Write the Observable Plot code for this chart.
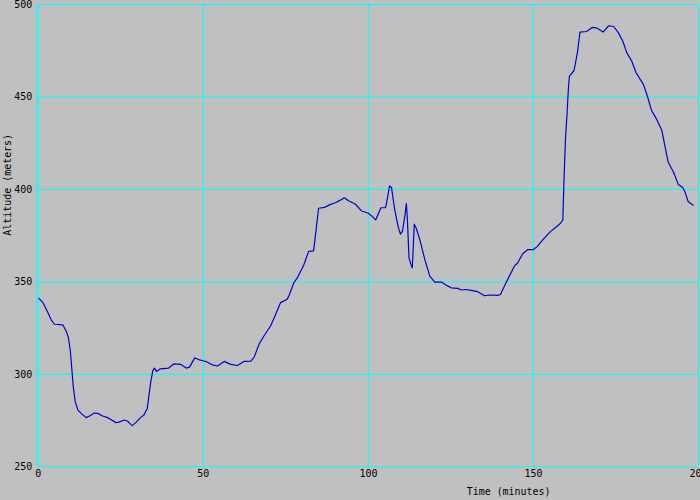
<!DOCTYPE html>
<html>
<head>
<meta charset="utf-8">
<script src="https://cdn.jsdelivr.net/npm/d3@7"></script>
<script src="https://cdn.jsdelivr.net/npm/@observablehq/plot@0.6"></script>
<style>
html, body { margin: 0; padding: 0; background: #c0c0c0; overflow: hidden; }
#chart svg { display: block; }
</style>
</head>
<body>
<div id="chart"></div>
<script>
// Elapsed time (minutes)
const time = [
  0.2, 1.4, 2.9, 3.9, 4.9, 7.4, 8.4, 9.1, 9.7, 10.2, 10.6, 11.2, 12.0, 13.0, 14.5, 15.5,
  17.0, 18.0, 19.5, 21.0, 22.0, 23.5, 24.5, 26.0, 27.0, 27.7, 28.5, 29.5, 31.0, 32.0,
  33.0, 34.0, 34.7, 35.2, 35.8, 37.0, 39.5, 41.1, 43.1, 44.8, 45.8, 47.4, 48.6, 50.4,
  50.8, 52.8, 54.3, 56.3, 58.3, 60.3, 62.3, 64.4, 65.4, 66.9, 68.4, 70.4, 71.7, 73.4,
  75.4, 76.1, 77.4, 78.6, 80.4, 81.9, 83.4, 84.1, 84.9, 86.7, 88.5, 90.0, 91.5, 92.7,
  94.0, 96.0, 98.0, 100.0, 101.2, 102.2, 103.8, 105.2, 105.8, 106.4, 107.0, 108.0,
  109.0, 109.7, 110.3, 111.1, 111.5, 111.8, 112.3, 112.9, 113.3, 113.9, 114.5, 115.6,
  117.1, 118.6, 120.1, 122.1, 124.1, 125.1, 127.1, 128.1, 129.6, 131.1, 133.1, 135.2,
  136.7, 139.2, 140.0, 141.7, 144.2, 145.2, 146.7, 148.2, 149.9, 151.2, 152.4, 155.2,
  156.7, 158.2, 158.9, 159.2, 159.7, 160.2, 160.6, 160.9, 162.3, 163.3, 164.1, 166.1,
  167.8, 169.3, 171.1, 172.8, 174.3, 175.8, 177.1, 178.3, 179.8, 181.1, 183.3, 184.5,
  185.8, 187.3, 188.9, 189.8, 190.8, 192.4, 193.9, 195.2, 195.9, 196.9, 198.4
];
// Altitude (meters)
const altitude = [
  341.1, 338.8, 333.4, 329.5, 327.1, 326.8, 323.6, 320.0, 312.9, 302.1, 293.2, 285.1, 280.7, 278.9, 276.6, 277.5,
  279.1, 278.9, 277.5, 276.6, 275.6, 273.9, 274.2, 275.3, 274.8, 273.5, 272.3, 273.9, 276.6, 278.0,
  281.5, 295.0, 302.1, 303.4, 301.6, 303.0, 303.4, 305.7, 305.4, 303.4, 303.9, 308.9, 308.0, 307.1,
  307.0, 305.1, 304.5, 307.0, 305.4, 304.8, 307.0, 307.1, 309.3, 316.4, 320.9, 326.3, 331.6, 338.8,
  340.6, 343.2, 349.5, 352.6, 359.0, 366.5, 366.8, 377.3, 389.8, 390.3, 391.9, 392.8, 394.2, 395.5,
  393.9, 392.1, 388.3, 387.1, 385.3, 383.5, 390.1, 390.1, 395.5, 401.9, 401.0, 388.8,
  379.9, 375.8, 377.3, 386.2, 392.4, 384.4, 362.9, 359.3, 357.6, 381.2, 379.0, 372.7,
  362.0, 353.1, 349.9, 349.9, 347.7, 346.8, 346.5, 345.6, 345.9, 345.4, 344.7, 342.5,
  342.9, 342.7, 343.2, 349.5, 358.5, 360.2, 365.1, 367.4, 367.4, 369.2, 371.9, 377.3,
  379.4, 381.7, 383.5, 402.3, 427.3, 441.6, 455.0, 461.3, 464.3, 473.8, 485.1, 485.4,
  487.6, 487.2, 485.1, 488.5, 488.1, 484.5, 480.0, 473.8, 469.3, 463.1, 456.8, 450.5,
  442.5, 438.0, 431.8, 423.7, 414.8, 409.4, 402.6, 401.0, 398.7, 393.3, 391.5
];
const xTicks = [0, 50, 100, 150, 200];
const yTicks = [250, 300, 350, 400, 450, 500];
const xTitle = "Time (minutes)";
const yTitle = "Altitude (meters)";

const data = time.map((t, i) => ({time: t, altitude: altitude[i]}));

const chart = Plot.plot({
  width: 704,
  height: 500,
  marginLeft: 38,
  marginRight: 2,
  marginTop: 4,
  marginBottom: 31,
  style: {
    background: "#c0c0c0",
    fontFamily: "'DejaVu Sans Mono', monospace",
    fontSize: "10px",
    color: "black",
    overflow: "visible"
  },
  x: {domain: [0, 200], label: null},
  y: {domain: [250, 500], label: null},
  marks: [
    Plot.gridX(xTicks, {stroke: "#00ffff", strokeOpacity: 1, strokeWidth: 1}),
    Plot.gridY(yTicks, {stroke: "#00ffff", strokeOpacity: 1, strokeWidth: 1}),
    Plot.ruleX([xTicks[0]], {stroke: "#00ffff", strokeWidth: 1, dx: -2}),
    Plot.axisX(xTicks, {tickSize: 0, tickPadding: 3, fill: "black", fontSize: 10}),
    Plot.axisY(yTicks, {tickSize: 0, tickPadding: 6, fill: "black", fontSize: 10}),
    Plot.line(data, {x: "time", y: "altitude", stroke: "#0000cc", strokeWidth: 1.2}),
    Plot.text([xTitle], {frameAnchor: "bottom", dx: 141, dy: 25, lineAnchor: "middle", fill: "black", fontSize: 10}),
    Plot.text([yTitle], {frameAnchor: "left", dx: -30.5, rotate: -90, lineAnchor: "middle", fill: "black", fontSize: 10})
  ]
});
document.getElementById("chart").append(chart);
</script>
</body>
</html>
